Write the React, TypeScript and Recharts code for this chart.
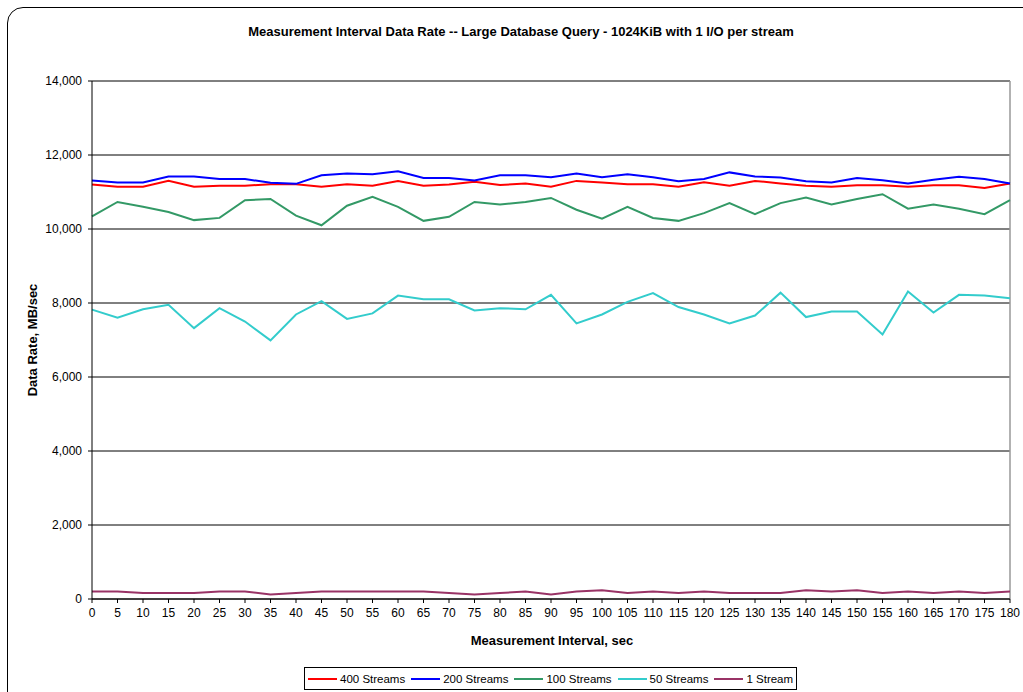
import React from "react";
import { LineChart, Line, XAxis, YAxis, CartesianGrid, ReferenceLine } from "recharts";

const intervals = [
  0, 5, 10, 15, 20, 25, 30, 35, 40, 45, 50, 55, 60, 65, 70, 75, 80, 85, 90,
  95, 100, 105, 110, 115, 120, 125, 130, 135, 140, 145, 150, 155, 160, 165, 170, 175, 180,
];

const streams400 = [
  11200, 11140, 11140, 11300, 11140, 11170, 11170, 11210, 11210, 11140, 11210, 11170, 11300,
  11170, 11200, 11280, 11190, 11230, 11140, 11300, 11260, 11210, 11210, 11140, 11260,
  11170, 11300, 11230, 11170, 11140, 11180, 11180, 11140, 11180, 11180, 11110, 11230,
];

const streams200 = [
  11310, 11260, 11260, 11420, 11420, 11350, 11350, 11250, 11220, 11450, 11500, 11480, 11560,
  11380, 11380, 11310, 11450, 11450, 11400, 11500, 11400, 11480, 11400, 11290, 11350,
  11530, 11420, 11390, 11290, 11260, 11380, 11320, 11230, 11330, 11410, 11350, 11230,
];

const streams100 = [
  10340, 10730, 10600, 10460, 10240, 10300, 10780, 10810, 10360, 10100, 10630, 10870, 10600,
  10220, 10330, 10730, 10660, 10730, 10840, 10520, 10280, 10600, 10300, 10220, 10430,
  10700, 10400, 10700, 10850, 10660, 10810, 10940, 10550, 10660, 10550, 10400, 10780,
];

const streams50 = [
  7820, 7600, 7830, 7950, 7320, 7860, 7500, 6990, 7690, 8050, 7570, 7720, 8200,
  8100, 8100, 7800, 7860, 7830, 8220, 7450, 7690, 8030, 8270, 7890, 7690,
  7450, 7660, 8280, 7620, 7770, 7770, 7150, 8310, 7740, 8220, 8200, 8130,
];

const stream1 = [
  200, 200, 160, 160, 160, 200, 200, 125, 160, 200, 200, 200, 200, 200, 160, 125, 160, 200, 125,
  200, 235, 160, 200, 160, 200, 160, 160, 160, 235, 200, 235, 160, 200, 160, 200, 160, 200,
];

const yTicks = [0, 2000, 4000, 6000, 8000, 10000, 12000, 14000];

const series = [
  { key: "s400", name: "400 Streams", color: "#ff0000", values: streams400 },
  { key: "s200", name: "200 Streams", color: "#0000ff", values: streams200 },
  { key: "s100", name: "100 Streams", color: "#339966", values: streams100 },
  { key: "s50", name: "50 Streams", color: "#33cccc", values: streams50 },
  { key: "s1", name: "1 Stream", color: "#993366", values: stream1 },
];

const data = intervals.map((t, i) => {
  const row: Record<string, number> = { t };
  series.forEach((s) => {
    row[s.key] = s.values[i];
  });
  return row;
});

const font = "'Liberation Sans', Arial, sans-serif";

export default function App() {
  return (
    <div
      style={{
        position: "absolute",
        left: 0,
        top: 0,
        width: 1023,
        height: 692,
        overflow: "hidden",
        background: "#fff",
        fontFamily: font,
      }}
    >
      <div
        style={{
          position: "absolute",
          left: 7,
          top: 7,
          width: 1040,
          height: 710,
          border: "1px solid #000",
          borderRadius: 16,
        }}
      />
      <div
        style={{
          position: "absolute",
          left: 0,
          width: 1042,
          top: 24,
          textAlign: "center",
          fontWeight: "bold",
          fontSize: 13,
        }}
      >
        Measurement Interval Data Rate -- Large Database Query - 1024KiB with 1 I/O per stream
      </div>
      <div
        style={{
          position: "absolute",
          left: 32,
          top: 340,
          transform: "translate(-50%, -50%) rotate(-90deg)",
          whiteSpace: "nowrap",
          fontWeight: "bold",
          fontSize: 13,
        }}
      >
        Data Rate, MB/sec
      </div>
      <div
        style={{
          position: "absolute",
          left: 92,
          width: 920,
          top: 633,
          textAlign: "center",
          fontWeight: "bold",
          fontSize: 13,
        }}
      >
        Measurement Interval, sec
      </div>

      <LineChart
        width={1023}
        height={692}
        data={data}
        margin={{ top: 81, right: 13, left: 32, bottom: 63 }}
        style={{ position: "absolute", left: 0, top: 0 }}
      >
        <CartesianGrid vertical={false} stroke="#000" strokeWidth={1} />
        <XAxis
          dataKey="t"
          type="number"
          domain={[0, 180]}
          ticks={intervals}
          interval={0}
          height={30}
          tickSize={4}
          tickMargin={5}
          stroke="#000"
          tick={{ fontSize: 12, fill: "#000", fontFamily: font }}
        />
        <YAxis
          domain={[0, 14000]}
          ticks={yTicks}
          width={60}
          tickSize={4}
          tickMargin={6}
          stroke="#000"
          tickFormatter={(v) => v.toLocaleString("en-US")}
          tick={{ fontSize: 12, fill: "#000", fontFamily: font }}
        />
        <ReferenceLine x={180} stroke="#999" strokeWidth={1.5} />
        {series.map((s) => (
          <Line
            key={s.key}
            dataKey={s.key}
            name={s.name}
            stroke={s.color}
            strokeWidth={2}
            dot={false}
            type="linear"
            isAnimationActive={false}
          />
        ))}
      </LineChart>

      <div
        style={{
          position: "absolute",
          left: 304,
          top: 667,
          width: 493,
          height: 23,
          border: "1px solid #000",
          boxSizing: "border-box",
          display: "flex",
          alignItems: "center",
          fontSize: 11.5,
          whiteSpace: "nowrap",
          paddingLeft: 3,
        }}
      >
        {series.map((s) => (
          <div
            key={s.key}
            style={{ display: "flex", alignItems: "center", marginRight: 6, flexShrink: 0 }}
          >
            <svg width={29} height={4} style={{ marginRight: 3, flexShrink: 0 }}>
              <line x1={0} y1={2} x2={29} y2={2} stroke={s.color} strokeWidth={2} />
            </svg>
            <span>{s.name}</span>
          </div>
        ))}
      </div>
    </div>
  );
}
